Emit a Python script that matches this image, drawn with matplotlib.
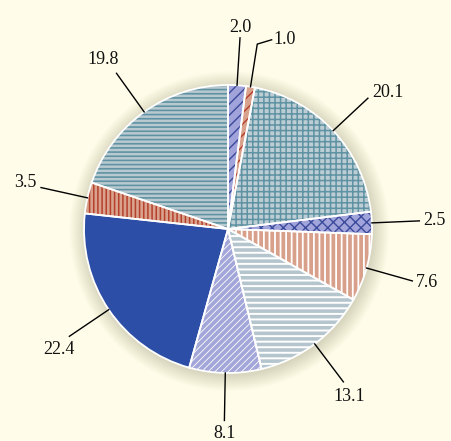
import numpy as np
import matplotlib.pyplot as plt
from matplotlib.patches import Wedge, Circle

# slice values, clockwise from 12 o'clock
values = [2.0, 1.0, 20.1, 2.5, 7.6, 13.1, 8.1, 22.4, 3.5, 19.8]
labels = ['2.0', '1.0', '20.1', '2.5', '7.6', '13.1', '8.1', '22.4', '3.5', '19.8']

# styling per slice: base colour, hatch, hatch colour, hatch line width
face_colors = ['#a1a4da', '#d9a28c', '#bccdd4', '#a1a4da', '#d8a08b',
               '#b5c5ce', '#a3a6d8', '#2d4ea6', '#d9a28c', '#b9c9d0']
hatches = ['///', '///', '+++', 'xxx', '|||', '---', '/////', None, '||||', '----']
hatch_colors = ['#3c4a9c', '#b5402c', '#5f93a3', '#3c4a9c', 'white',
                'white', 'white', None, '#b5402c', '#5f93a3']
hatch_widths = [1.0, 1.0, 1.1, 1.0, 1.3, 1.4, 0.6, 0, 1.1, 1.2]

# label placement: alignment and offset (pixels) from leader line end
label_align = [('center', 'bottom', 0, 2), ('left', 'center', 2, 0),
               ('left', 'center', 4, 6), ('left', 'center', 4, 0),
               ('left', 'center', 4, -2), ('center', 'top', 6, -6),
               ('center', 'top', 0, -5), ('center', 'top', -10, -5),
               ('right', 'center', -5, 5), ('center', 'bottom', -13, 5)]

BG = '#fffdea'
fig = plt.figure(figsize=(4.52, 4.41), dpi=100)
fig.patch.set_facecolor(BG)
ax = fig.add_axes([0, 0, 1, 1])
ax.set_facecolor(BG)

# soft shadow around the pie
for r in np.linspace(1.11, 1.0, 20):
    ax.add_patch(Circle((0.01, -0.015), r, color='#5e5936', alpha=0.012, lw=0, zorder=0.5))

wedges, _ = ax.pie(values, colors=face_colors, startangle=90, counterclock=False,
                   radius=1.0, wedgeprops=dict(edgecolor='none', linewidth=0))

for w, h, hc, hw in zip(wedges, hatches, hatch_colors, hatch_widths):
    if h:
        hp = Wedge(w.center, w.r, w.theta1, w.theta2, fill=False, hatch=h,
                   edgecolor=hc, linewidth=0, zorder=2)
        hp.set_hatch_linewidth(hw)
        ax.add_patch(hp)
    ax.add_patch(Wedge(w.center, w.r, w.theta1, w.theta2, fill=False,
                       edgecolor='white', linewidth=1.3, zorder=3))

# leader lines and labels
px = 72 / 100
for i, (w, lab) in enumerate(zip(wedges, labels)):
    ang = np.deg2rad((w.theta1 + w.theta2) / 2)
    x0, y0 = np.cos(ang), np.sin(ang)
    r_end = 1.33 if i != 1 else 1.30
    x1, y1 = r_end * np.cos(ang), r_end * np.sin(ang)
    xs, ys = [x0, x1], [y0, y1]
    if i == 1:
        xs.append(x1 + 0.10)
        ys.append(y1 + 0.03)
    ax.plot(xs, ys, color='black', lw=1.0, zorder=4)
    ha, va, dx, dy = label_align[i]
    ax.annotate(lab, (xs[-1], ys[-1]), xytext=(dx * px, dy * px),
                textcoords='offset points', ha=ha, va=va,
                fontsize=13, family='Liberation Serif', color='#111111')

# keep 1 data unit = 144 px, centre at (228, 229) from top-left
ax.set_aspect('auto')
ax.set_xlim(-228 / 144, (452 - 228) / 144)
ax.set_ylim(-(441 - 229) / 144, 229 / 144)
ax.axis('off')

fig.savefig('out.png', dpi=100, facecolor=BG)
